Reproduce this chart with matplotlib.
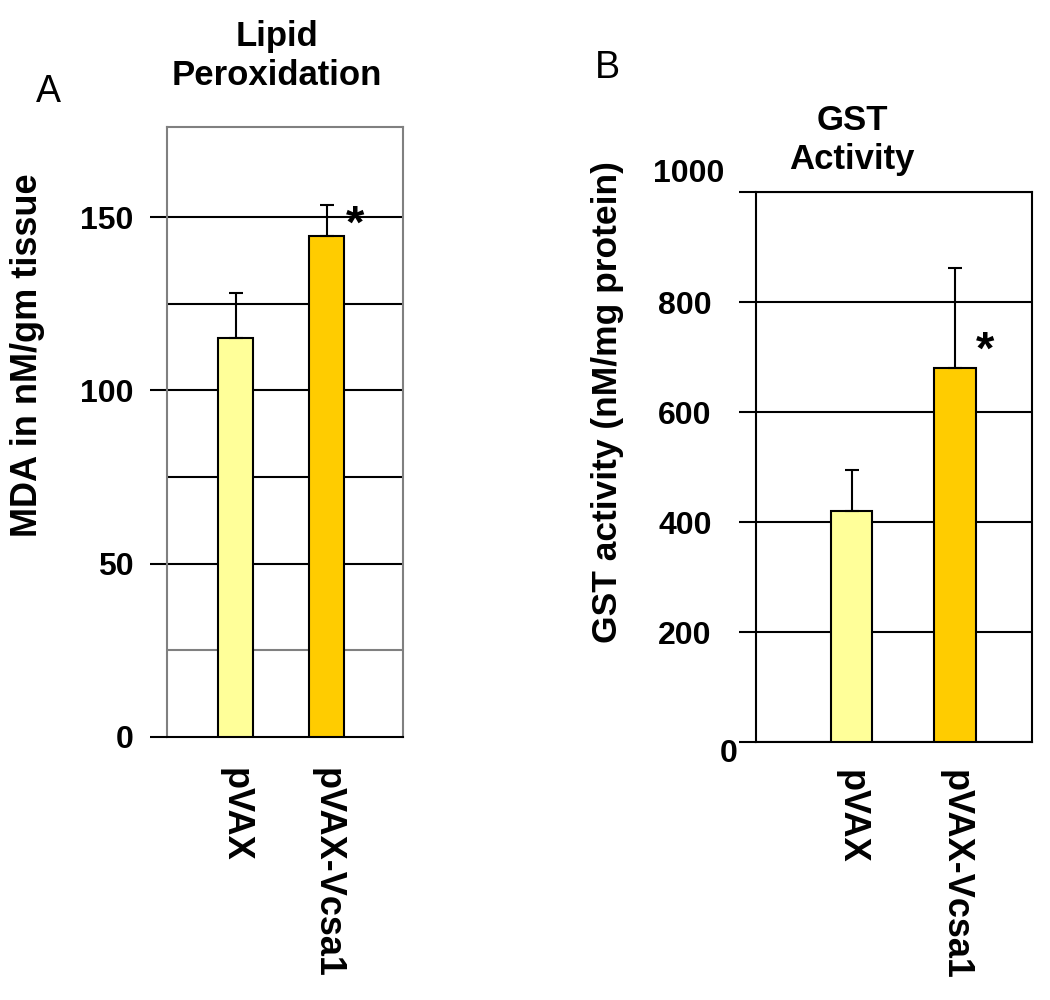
import matplotlib.pyplot as plt
from matplotlib.transforms import ScaledTranslation

plt.rcParams['font.family'] = ['Liberation Sans', 'DejaVu Sans']

# data
groups = ['pVAX', 'pVAX-Vcsa1']
bar_colors = ['#FFFF99', '#FFCC00']

mda = [115, 144.5]        # MDA in nM/gm tissue
mda_err = [13, 9]
mda_ticks = [0, 50, 100, 150]
mda_grid = [25, 50, 75, 100, 125, 150]

gst = [420, 680]          # GST activity (nM/mg protein)
gst_err = [75, 182]
gst_ticks = [0, 200, 400, 600, 800, 1000]

fig = plt.figure(figsize=(10.5, 10), dpi=100)
x = list(range(len(groups)))


def shift(label, dx, dy):
    # nudge a text by pixels (dx right, dy up)
    label.set_transform(label.get_transform() +
                        ScaledTranslation(dx / 100, dy / 100, fig.dpi_scale_trans))


# ---- panel A ----
axA = fig.add_axes([0.159, 0.263, 0.225, 0.61])
axA.bar(x, mda, width=0.39, color=bar_colors, edgecolor='black', linewidth=1.5, zorder=3)
axA.errorbar(x, mda, yerr=[[0] * len(mda), mda_err], fmt='none', ecolor='black',
             elinewidth=1.5, capsize=5, capthick=1.5, zorder=4)
axA.set_xlim(-0.753, 1.84)
axA.set_ylim(0, 176)
for g in mda_grid:
    axA.axhline(g, color='#808080' if g == 25 else 'black', linewidth=1.5, zorder=1)
axA.set_yticks(mda_ticks)
axA.set_yticklabels([str(t) for t in mda_ticks], fontsize=23, fontweight='bold')
axA.tick_params(axis='y', length=12, width=1.5, direction='out', pad=12)
axA.set_xticks(x)
axA.set_xticklabels(groups, rotation=-90, fontsize=26, fontweight='bold', va='top', ha='center')
axA.tick_params(axis='x', length=0, pad=22)
for s in ['left', 'top', 'right']:
    axA.spines[s].set_color('#808080')
    axA.spines[s].set_linewidth(1.5)
axA.spines['bottom'].set_linewidth(1.5)
axA.text(1.31, 147.5, '*', fontsize=34, fontweight='bold', ha='center', va='center', zorder=5)

# ---- panel B ----
axB = fig.add_axes([0.72, 0.258, 0.263, 0.55])
axB.bar(x, gst, width=0.40, color=bar_colors, edgecolor='black', linewidth=1.5, zorder=3)
axB.errorbar(x, gst, yerr=[[0] * len(gst), gst_err], fmt='none', ecolor='black',
             elinewidth=1.5, capsize=5, capthick=1.5, zorder=4)
axB.set_xlim(-0.923, 1.744)
axB.set_ylim(0, 1000)
axB.set_yticks(gst_ticks)
axB.set_yticklabels([str(t) for t in gst_ticks], fontsize=23, fontweight='bold')
axB.grid(True, axis='y', color='black', linewidth=1.5, zorder=0)
axB.tick_params(axis='y', length=12, width=1.5, direction='out', pad=20)
ylabs = axB.get_yticklabels()
shift(ylabs[0], 26, -9)
shift(ylabs[-1], 13, 22)
axB.set_xticks(x)
axB.set_xticklabels(groups, rotation=-90, fontsize=26, fontweight='bold', va='top', ha='center')
axB.tick_params(axis='x', length=0, pad=20)
for s in axB.spines.values():
    s.set_linewidth(1.5)
axB.text(1.29, 710, '*', fontsize=34, fontweight='bold', ha='center', va='center', zorder=5)

# titles, labels
fig.text(277 / 1050, 1 - 56 / 1000, 'Lipid\nPeroxidation', fontsize=25, fontweight='bold',
         ha='center', va='center', linespacing=1.2)
fig.text(852 / 1050, 1 - 140 / 1000, 'GST\nActivity', fontsize=25, fontweight='bold',
         ha='center', va='center', linespacing=1.25)
fig.text(48 / 1050, 1 - 92 / 1000, 'A', fontsize=27, ha='center', va='center')
fig.text(607 / 1050, 1 - 68 / 1000, 'B', fontsize=27, ha='center', va='center')
fig.text(28 / 1050, 1 - 355 / 1000, 'MDA in nM/gm tissue', fontsize=26, fontweight='bold',
         rotation=90, ha='center', va='center')
fig.text(607 / 1050, 1 - 402 / 1000, 'GST activity (nM/mg protein)', fontsize=25.5,
         fontweight='bold', rotation=90, ha='center', va='center')

fig.savefig('out.png', dpi=100, facecolor='white')
